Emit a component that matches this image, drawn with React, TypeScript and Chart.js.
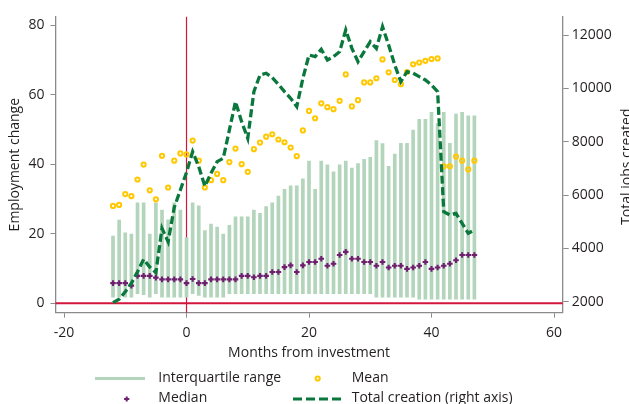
import React, { useEffect, useRef } from 'react';
import { Chart, registerables } from 'chart.js';

Chart.register(...registerables);

// ---------- data ----------
const months = [
  -12, -11, -10, -9, -8, -7, -6, -5, -4, -3, -2, -1, 0, 1, 2, 3, 4, 5, 6, 7,
  8, 9, 10, 11, 12, 13, 14, 15, 16, 17, 18, 19, 20, 21, 22, 23, 24, 25, 26, 27,
  28, 29, 30, 31, 32, 33, 34, 35, 36, 37, 38, 39, 40, 41, 42, 43, 44, 45, 46, 47,
];

const iqrLow = [
  1.8, 1.8, 1.8, 1.8, 2.8, 2.5, 1.8, 2.8, 1.8, 1.8, 1.8, 1.8, 1.8, 2.8, 2.3, 1.8, 1.8, 1.8, 1.8, 2.8,
  2.8, 2.8, 2.8, 2.8, 2.8, 2.8, 2.8, 2.8, 2.8, 2.8, 2.8, 2.8, 2.8, 2.8, 2.8, 2.8, 2.8, 2.8, 2.8, 2.8,
  2.8, 2.8, 2.8, 1.8, 1.8, 1.8, 1.8, 1.8, 1.8, 1.8, 1.2, 1.2, 1.2, 1.2, 1.2, 1.2, 1.2, 1.2, 1.2, 1.2,
];

const iqrHigh = [
  19.3, 23.9, 20.3, 19.9, 28.9, 28.9, 19.9, 28.9, 26.8, 24.0, 28.9, 26.8, 18.9, 28.9, 28.0, 20.9, 22.8, 21.9, 19.9, 22.4,
  24.9, 24.9, 24.9, 26.8, 25.9, 27.8, 28.9, 30.8, 32.8, 33.8, 33.8, 35.8, 40.9, 32.8, 40.9, 39.8, 37.8, 39.8, 40.9, 38.9,
  40.2, 41.4, 42.0, 46.8, 45.9, 39.4, 42.9, 46.0, 46.0, 49.8, 52.9, 52.9, 54.9, 51.7, 54.9, 46.0, 54.4, 54.9, 53.9, 53.9,
];

const medianValues = [
  5.8, 5.8, 5.8, 5.1, 7.9, 7.9, 7.9, 7.4, 6.9, 6.9, 6.9, 6.9, 5.8, 7.0, 5.8, 5.8, 6.9, 6.9, 6.9, 6.9,
  6.9, 7.9, 7.9, 7.5, 7.9, 7.9, 9.0, 9.0, 10.4, 10.9, 9.0, 10.9, 11.9, 11.9, 12.8, 10.8, 11.4, 13.9, 14.8, 12.8,
  12.8, 11.9, 11.9, 10.8, 11.9, 10.3, 10.8, 10.8, 9.9, 10.3, 10.8, 11.9, 9.9, 10.3, 10.8, 11.4, 12.4, 13.9, 13.9, 13.9,
];

const meanValues = [
  28.0, 28.3, 31.4, 30.8, 35.6, 39.9, 32.5, 29.9, 42.4, 33.3, 41.0, 43.1, 42.8, 46.8, 41.0, 33.3, 35.4, 37.2, 35.4, 40.6,
  44.5, 40.0, 37.8, 44.3, 46.2, 47.9, 48.6, 47.1, 46.3, 44.8, 42.3, 49.7, 55.3, 53.2, 57.5, 56.4, 55.8, 58.2, 65.8, 56.6,
  58.4, 63.5, 63.5, 64.7, 70.1, 66.4, 64.2, 63.0, 66.5, 68.7, 69.2, 69.7, 70.2, 70.4, 39.4, 39.4, 42.2, 41.0, 38.5, 41.0,
];

const totalCreation = [
  1963, 2090, 2375, 2690, 3125, 3590, 3300, 3090, 4750, 4250, 5540, 6190, 6850, 7625, 7060, 6330, 6815, 7250, 7377, 8440,
  9500, 8750, 8127, 9875, 10500, 10565, 10400, 10150, 9875, 9627, 9313, 10375, 11250, 11190, 11465, 11063, 11190, 11375, 12190, 11500,
  11000, 11375, 11750, 11500, 12313, 11625, 10875, 10250, 10625, 10565, 10438, 10313, 10125, 9875, 5375, 5250, 5313, 4940, 4565, 4690,
];

const xTicks = [-20, 0, 20, 40, 60];
const leftTicks = [0, 20, 40, 60, 80];
const rightTicks = [2000, 4000, 6000, 8000, 10000, 12000];

const xTitle = 'Months from investment';
const leftTitle = 'Employment change';
const rightTitle = 'Total jobs created';
const legendLabels = ['Interquartile range', 'Mean', 'Median', 'Total creation (right axis)'];

// ---------- style ----------
const FONT = '"Open Sans", "Noto Sans", sans-serif';
const FONT_SIZE = 14;
const TEXT = '#231f20';
const AXIS = '#8a8a8a';
const RED = '#d2163c';
const BAR = '#b3d5bb';
const YELLOW = '#ffc800';
const PURPLE = '#6e1f6e';
const GREEN = '#0a783c';
const DASH = [8, 3.5];

const refLinesPlugin = {
  id: 'refLines',
  beforeDatasetsDraw(chart: any) {
    const { ctx, chartArea, scales } = chart;
    const y0 = scales.y.getPixelForValue(0);
    const x0 = scales.x.getPixelForValue(0);
    ctx.save();
    ctx.strokeStyle = RED;
    ctx.lineWidth = 1.2;
    ctx.beginPath();
    ctx.moveTo(x0, chartArea.top);
    ctx.lineTo(x0, chartArea.bottom);
    ctx.stroke();
    ctx.lineWidth = 2;
    ctx.beginPath();
    ctx.moveTo(chartArea.left, y0);
    ctx.lineTo(chartArea.right, y0);
    ctx.stroke();
    ctx.restore();
  },
};

const legendPlugin = {
  id: 'customLegend',
  afterDraw(chart: any) {
    const { ctx, chartArea } = chart;
    ctx.save();
    // right axis title (reads bottom to top)
    ctx.font = `${FONT_SIZE}px ${FONT}`;
    ctx.fillStyle = TEXT;
    ctx.textAlign = 'center';
    ctx.textBaseline = 'middle';
    ctx.translate(627, (chartArea.top + chartArea.bottom) / 2 + 2);
    ctx.rotate(-Math.PI / 2);
    ctx.fillText(rightTitle, 0, 0);
    ctx.setTransform(1, 0, 0, 1, 0, 0);

    const r1 = 378.5;
    const r2 = 398;
    // IQR
    ctx.strokeStyle = BAR;
    ctx.lineWidth = 3;
    ctx.beginPath();
    ctx.moveTo(95, r1);
    ctx.lineTo(145, r1);
    ctx.stroke();
    // Mean
    ctx.strokeStyle = YELLOW;
    ctx.lineWidth = 2;
    ctx.beginPath();
    ctx.arc(317.7, r1, 2.1, 0, Math.PI * 2);
    ctx.stroke();
    // Median
    ctx.strokeStyle = PURPLE;
    ctx.lineWidth = 2;
    ctx.beginPath();
    ctx.moveTo(126.7 - 2.6, r2 + 1);
    ctx.lineTo(126.7 + 2.6, r2 + 1);
    ctx.moveTo(126.7, r2 + 1 - 2.6);
    ctx.lineTo(126.7, r2 + 1 + 2.6);
    ctx.stroke();
    // Total creation
    ctx.strokeStyle = GREEN;
    ctx.lineWidth = 3;
    ctx.setLineDash([9, 4]);
    ctx.beginPath();
    ctx.moveTo(293, r2 + 1);
    ctx.lineTo(343, r2 + 1);
    ctx.stroke();
    ctx.setLineDash([]);

    ctx.fillStyle = TEXT;
    ctx.textAlign = 'left';
    ctx.textBaseline = 'middle';
    ctx.fillText(legendLabels[0], 158.3, r1);
    ctx.fillText(legendLabels[1], 351.7, r1);
    ctx.fillText(legendLabels[2], 158.3, r2);
    ctx.fillText(legendLabels[3], 351.7, r2);
    ctx.restore();
  },
};

export default function App() {
  const canvasRef = useRef<HTMLCanvasElement | null>(null);

  useEffect(() => {
    const canvas = canvasRef.current;
    if (!canvas) return;
    Chart.defaults.font.family = FONT;
    Chart.defaults.font.size = FONT_SIZE;
    Chart.defaults.color = TEXT;

    const tickStyle = { font: { family: FONT, size: FONT_SIZE }, color: TEXT, autoSkip: false, maxRotation: 0 };

    const chart = new Chart(canvas, {
      type: 'bar',
      data: {
        datasets: [
          {
            type: 'line',
            label: 'Total creation (right axis)',
            data: months.map((m, i) => ({ x: m, y: totalCreation[i] })),
            yAxisID: 'y2',
            xAxisID: 'x',
            borderColor: GREEN,
            borderWidth: 3.3,
            borderDash: DASH,
            pointRadius: 0,
            fill: false,
            tension: 0,
            order: 1,
          } as any,
          {
            type: 'line',
            label: 'Mean',
            data: months.map((m, i) => ({ x: m, y: meanValues[i] })),
            yAxisID: 'y',
            xAxisID: 'x',
            showLine: false,
            pointStyle: 'circle',
            pointRadius: 2.1,
            pointBorderWidth: 2,
            pointBorderColor: YELLOW,
            pointBackgroundColor: 'rgba(0,0,0,0)',
            order: 2,
          } as any,
          {
            type: 'line',
            label: 'Median',
            data: months.map((m, i) => ({ x: m, y: medianValues[i] })),
            yAxisID: 'y',
            xAxisID: 'x',
            showLine: false,
            pointStyle: 'cross',
            pointRadius: 2.8,
            pointBorderWidth: 2.1,
            pointBorderColor: PURPLE,
            pointBackgroundColor: PURPLE,
            order: 3,
          } as any,
          {
            type: 'bar',
            label: 'Interquartile range',
            data: months.map((m, i) => ({ x: m, y: [iqrLow[i], iqrHigh[i]] })),
            yAxisID: 'y',
            xAxisID: 'x',
            backgroundColor: BAR,
            borderWidth: 0,
            barThickness: 3,
            grouped: false,
            order: 4,
          } as any,
        ],
      },
      options: {
        animation: false,
        responsive: false,
        devicePixelRatio: 1,
        events: [],
        layout: { padding: { top: 16.67, bottom: 43, left: 0, right: 0 } },
        plugins: { legend: { display: false }, tooltip: { enabled: false }, title: { display: false } },
        scales: {
          x: {
            type: 'linear',
            position: 'bottom',
            min: -21.39,
            max: 61.42,
            offset: false,
            afterBuildTicks: (s: any) => { s.ticks = xTicks.map((v) => ({ value: v })); },
            afterFit: (s: any) => { s.height = 48.33; },
            ticks: { ...tickStyle, padding: 7 },
            grid: { display: true, offset: false, drawOnChartArea: false, drawTicks: true, tickLength: 5, tickColor: AXIS, tickWidth: 1 },
            border: { display: true, color: AXIS, width: 1.3 },
            title: { display: true, text: xTitle, font: { family: FONT, size: FONT_SIZE }, color: TEXT, padding: { top: 0, bottom: 0 } },
          },
          y: {
            type: 'linear',
            position: 'left',
            min: -2.68,
            max: 82.4,
            afterBuildTicks: (s: any) => { s.ticks = leftTicks.map((v) => ({ value: v })); },
            afterFit: (s: any) => { s.width = 55.5; },
            ticks: { ...tickStyle, padding: 6 },
            grid: { display: true, drawOnChartArea: false, drawTicks: true, tickLength: 5, tickColor: AXIS, tickWidth: 1 },
            border: { display: true, color: AXIS, width: 1.3 },
            title: { display: true, text: leftTitle, font: { family: FONT, size: FONT_SIZE }, color: TEXT, padding: { top: 6.5, bottom: 0 } },
          },
          y2: {
            type: 'linear',
            position: 'right',
            min: 1587.5,
            max: 12687.5,
            afterBuildTicks: (s: any) => { s.ticks = rightTicks.map((v) => ({ value: v })); },
            afterFit: (s: any) => { s.width = 66.3; },
            ticks: { ...tickStyle, padding: 3, callback: (v: any) => String(v) },
            grid: { display: true, drawOnChartArea: false, drawTicks: true, tickLength: 6, tickColor: AXIS, tickWidth: 1 },
            border: { display: true, color: AXIS, width: 1.3 },
            title: { display: false },
          },
        },
      } as any,
      plugins: [refLinesPlugin, legendPlugin],
    });

    return () => { chart.destroy(); };
  }, []);

  return (
    <div style={{ position: 'fixed', left: 0, top: 0, width: 629, height: 404, background: '#ffffff' }}>
      <canvas ref={canvasRef} width={629} height={404} style={{ display: 'block' }} />
    </div>
  );
}
